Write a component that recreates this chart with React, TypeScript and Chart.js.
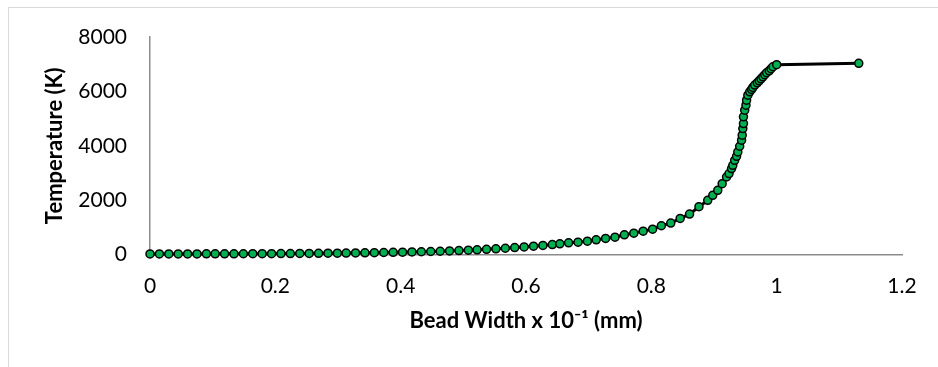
import React, { useEffect, useRef } from "react";
import { Chart, registerables } from "chart.js";

Chart.register(...registerables);

// Bead width (x 10^-1 mm)
const beadWidth: number[] = [
  0, 0.015, 0.03, 0.045, 0.06, 0.075, 0.09, 0.104, 0.119, 0.134,
  0.149, 0.164, 0.179, 0.194, 0.209, 0.224, 0.239, 0.254, 0.269, 0.284,
  0.299, 0.313, 0.328, 0.343, 0.358, 0.373, 0.388, 0.403, 0.418, 0.433,
  0.448, 0.463, 0.478, 0.493, 0.508, 0.522, 0.537, 0.552, 0.567, 0.582,
  0.597, 0.612, 0.627, 0.642, 0.654, 0.668, 0.683, 0.698, 0.712, 0.727,
  0.742, 0.757, 0.772, 0.787, 0.802, 0.816, 0.831, 0.846, 0.861, 0.876,
  0.89, 0.898, 0.906, 0.913, 0.92, 0.924, 0.928, 0.93, 0.933, 0.936,
  0.938, 0.941, 0.944, 0.945, 0.946, 0.947, 0.947, 0.949, 0.951, 0.952,
  0.954, 0.957, 0.96, 0.962, 0.965, 0.969, 0.972, 0.975, 0.978, 0.981,
  0.984, 0.988, 0.991, 0.994, 1.0, 1.131,
];

// Temperature (K)
const temperature: number[] = [
  19, 19, 20, 20, 21, 22, 23, 24, 25, 26,
  27, 29, 30, 32, 34, 36, 39, 41, 44, 47,
  50, 54, 58, 62, 67, 73, 79, 86, 93, 101,
  110, 120, 131, 144, 158, 174, 191, 210, 230, 253,
  278, 305, 335, 365, 394, 431, 454, 491, 541, 590,
  638, 725, 786, 859, 933, 1057, 1155, 1327, 1486, 1758,
  1991, 2175, 2359, 2606, 2851, 2975, 3159, 3281, 3465, 3613,
  3772, 3982, 4203, 4387, 4633, 4817, 5063, 5309, 5493, 5677,
  5862, 5984, 6071, 6145, 6230, 6316, 6390, 6463, 6537, 6611,
  6685, 6758, 6832, 6906, 6980, 7030,
];

const xTitle = "Bead Width x 10\u207B\u00B9 (mm)";
const yTitle = "Temperature (K)";

const FONT = "Lato, 'Open Sans', sans-serif";

export default function App() {
  const canvasRef = useRef<HTMLCanvasElement | null>(null);

  useEffect(() => {
    if (!canvasRef.current) return;
    const points = beadWidth.map((x, i) => ({ x, y: temperature[i] }));
    const chart = new Chart(canvasRef.current, {
      type: "line",
      data: {
        datasets: [
          {
            data: points,
            borderColor: "#000000",
            borderWidth: 3,
            pointRadius: 4,
            pointBorderWidth: 1.5,
            pointBorderColor: "#000000",
            pointBackgroundColor: "#00B050",
            tension: 0,
            fill: false,
            clip: false,
          } as any,
        ],
      },
      options: {
        animation: false,
        responsive: false,
        maintainAspectRatio: false,
        layout: { padding: { left: 40, right: 36, top: 37, bottom: 0 } },
        plugins: { legend: { display: false }, tooltip: { enabled: false } },
        scales: {
          x: {
            type: "linear",
            min: 0,
            max: 1.2,
            ticks: {
              stepSize: 0.2,
              color: "#000",
              padding: 19,
              font: { family: FONT, size: 21 },
              maxRotation: 0,
              callback: (v: any) => String(Number(Number(v).toFixed(1))),
            },
            grid: { display: false, drawTicks: false },
            border: { display: true, color: "#8c8c8c", width: 1.5 },
            title: {
              display: true,
              text: xTitle,
              color: "#000",
              font: { family: FONT, size: 22, weight: "bold" },
              padding: { top: 0, bottom: 33 },
            },
            afterFit: (scale: any) => {
              scale.height = 112.5;
            },
          },
          y: {
            min: 0,
            max: 8000,
            ticks: {
              stepSize: 2000,
              color: "#000",
              padding: 23,
              font: { family: FONT, size: 21 },
              callback: (v: any) => String(Math.round(Number(v))),
            },
            grid: { display: false, drawTicks: false },
            border: { display: true, color: "#8c8c8c", width: 1.5 },
            title: {
              display: true,
              text: yTitle,
              color: "#000",
              font: { family: FONT, size: 22, weight: "bold" },
              padding: { top: 2, bottom: 0 },
            },
            afterFit: (scale: any) => {
              scale.width = 110;
            },
          },
        },
      },
    });
    return () => chart.destroy();
  }, []);

  return (
    <div style={{ position: "fixed", left: 0, top: 0, width: 938, height: 367, background: "#fff" }}>
      <div
        style={{
          position: "absolute",
          left: 8,
          top: 7,
          width: 940,
          height: 400,
          borderTop: "1px solid #d9d9d9",
          borderLeft: "1px solid #d9d9d9",
        }}
      />
      <canvas
        ref={canvasRef}
        width={938}
        height={367}
        style={{ position: "absolute", left: 0, top: 0, width: 938, height: 367 }}
      />
    </div>
  );
}
